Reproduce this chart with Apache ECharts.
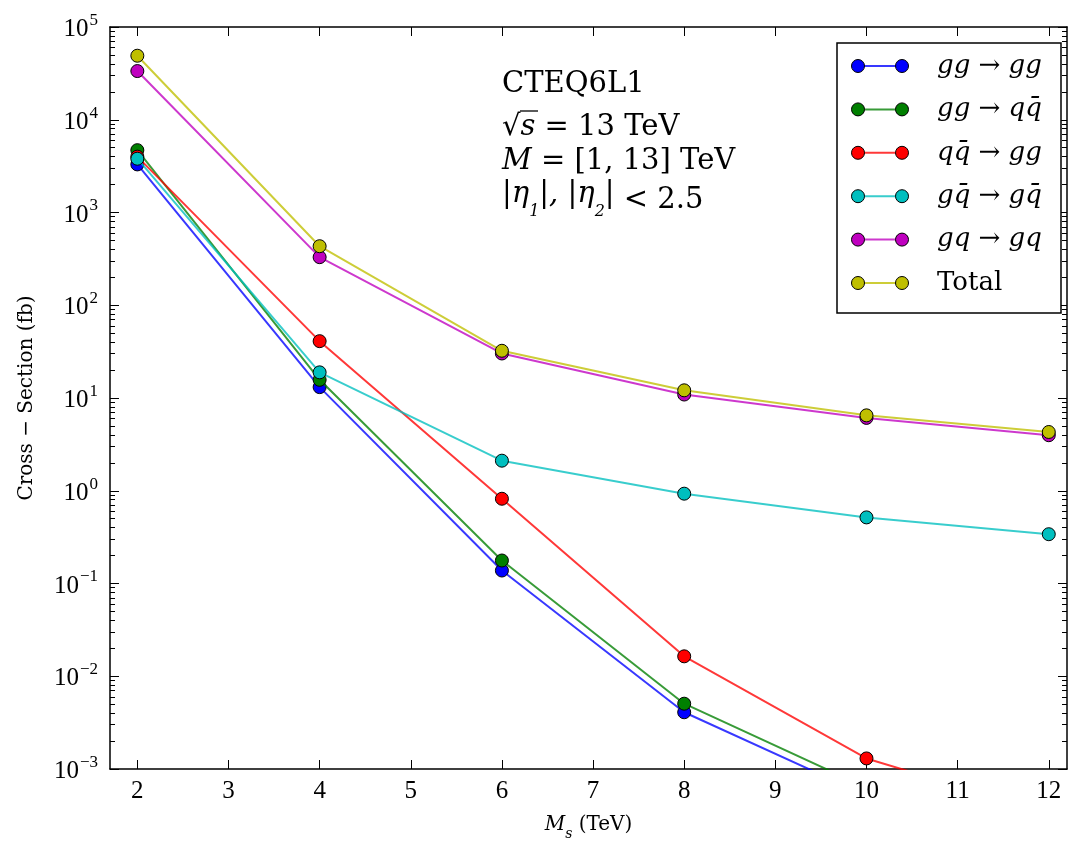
<!DOCTYPE html>
<html>
<head>
<meta charset="utf-8">
<script src="https://cdn.jsdelivr.net/npm/echarts@6/dist/echarts.min.js"></script>
<style>
html,body{margin:0;padding:0;background:#fff;}
#chart{width:1070px;height:846px;}
</style>
</head>
<body>
<div id="chart"></div>
<script>
// ---- data ----
const masses = [2, 4, 6, 8, 10, 12];
const seriesNames = ['gg → gg', 'gg → qq̄', 'qq̄ → gg', 'gq̄ → gq̄', 'gq → gq', 'Total'];
const ggToGg   = [3300, 13.1, 0.138, 0.00409, 0.00052, 0.00007];
const ggToQq   = [4700, 15.7, 0.177, 0.00506, 0.00063, 0.00009];
const qqToGg   = [4000, 41, 0.82, 0.0164, 0.0013, 0.00033];
const gqbToGqb = [3800, 18.9, 2.11, 0.93, 0.516, 0.34];
const gqToGq   = [33500, 330, 30.2, 10.9, 6.1, 3.97];
const total    = [49000, 433, 32.3, 12.1, 6.5, 4.3];
const xTicks = [2, 3, 4, 5, 6, 7, 8, 9, 10, 11, 12];
const yMajorTicks = [1e-3, 1e-2, 1e-1, 1e0, 1e1, 1e2, 1e3, 1e4, 1e5];
const yMinorMultipliers = [2, 3, 4, 5, 6, 7, 8, 9];
const colors = ['#0000ff', '#007f00', '#ff0000', '#00bfbf', '#bf00bf', '#bfbf00'];
const annotation = ['CTEQ6L1', 'sqrt', 'M', 'eta'];

const allSeries = [ggToGg, ggToQq, qqToGg, gqbToGqb, gqToGq, total];

const yMinorTicks = [];
for (let e = -3; e < 5; e++) {
  yMinorMultipliers.forEach(m => yMinorTicks.push(+(m * Math.pow(10, e)).toPrecision(3)));
}

const chart = echarts.init(document.getElementById('chart'), null, {renderer: 'canvas'});

const serif = 'Liberation Serif';
const dserif = 'DejaVu Serif';
const axisLineStyle = {color: '#000', width: 1.5};

function yLabelFmt(v) {
  const e = Math.round(Math.log10(v));
  return '{b|10}{s|' + (e < 0 ? '\u2212' + (-e) : e) + '}';
}
const yLabelRich = {
  b: {fontFamily: serif, fontSize: 25, color: '#000', lineHeight: 30, verticalAlign: 'bottom'},
  s: {fontFamily: serif, fontSize: 17, color: '#000', lineHeight: 30, verticalAlign: 'top', padding: [0, 0, 0, 1]}
};

function mkY(pos, major, showLabel) {
  return {
    type: 'log', logBase: 10, min: 1e-3, max: 1e5, position: pos,
    axisLine: {show: major, lineStyle: axisLineStyle},
    splitLine: {show: false},
    minorTick: {show: false},
    axisTick: {show: true, inside: true, length: major ? 9 : 5,
      lineStyle: {color: '#000', width: 1},
      customValues: major ? yMajorTicks : yMinorTicks},
    axisLabel: {show: showLabel, margin: 12, formatter: yLabelFmt, rich: yLabelRich,
      customValues: yMajorTicks},
    name: showLabel ? 'Cross \u2212 Section (fb)' : '',
    nameLocation: 'middle', nameGap: 73,
    nameTextStyle: {fontFamily: dserif, fontSize: 20, color: '#000'}
  };
}

function mkX(pos, showLabel) {
  return {
    type: 'value', min: 1.7, max: 12.2, position: pos,
    axisLine: {show: true, onZero: false, lineStyle: axisLineStyle},
    splitLine: {show: false},
    axisTick: {show: true, inside: true, length: 9, lineStyle: {color: '#000', width: 1},
      customValues: xTicks},
    axisLabel: {show: showLabel, margin: 10, fontFamily: serif, fontSize: 25, color: '#000',
      customValues: xTicks},
    name: showLabel ? '{i|M}{sub|s}{r| (TeV)}' : '',
    nameLocation: 'middle', nameGap: 46,
    nameTextStyle: {
      rich: {
        i: {fontFamily: dserif, fontStyle: 'italic', fontSize: 20, color: '#000', lineHeight: 26, verticalAlign: 'top'},
        sub: {fontFamily: dserif, fontStyle: 'italic', fontSize: 14, color: '#000', lineHeight: 26, verticalAlign: 'bottom'},
        r: {fontFamily: dserif, fontSize: 20, color: '#000', lineHeight: 26, verticalAlign: 'top'}
      }
    }
  };
}

const series = allSeries.map((vals, i) => ({
  name: seriesNames[i],
  type: 'line',
  xAxisIndex: 0, yAxisIndex: 0,
  data: masses.map((m, j) => [m, vals[j]]),
  symbol: 'circle', symbolSize: 13,
  itemStyle: {color: colors[i], borderColor: '#000', borderWidth: 1},
  lineStyle: {color: colors[i], width: 2, opacity: 0.78},
  clip: true,
  animation: false,
  z: 2 + i
}));

// legend via graphics
const legendX = 837, legendY = 43, legendW = 224, legendH = 270;
const rowY0 = 66, rowStep = 43.4;
const legendRich = {
  i: {fontFamily: dserif, fontStyle: 'italic', fontSize: 26, color: '#000'},
  r: {fontFamily: dserif, fontSize: 26, color: '#000'}
};
function legendText(name) {
  if (name === 'Total') return '{r|Total}';
  const parts = name.split(' → ');
  return '{i|' + parts[0] + '}{r| \u2192 }{i|' + parts[1] + '}';
}
const graphics = [{
  type: 'rect', z: 100,
  shape: {x: legendX, y: legendY, width: legendW, height: legendH},
  style: {fill: '#fff', stroke: '#000', lineWidth: 1.5}
}];
seriesNames.forEach((n, i) => {
  const cy = rowY0 + i * rowStep;
  graphics.push({type: 'line', z: 101, shape: {x1: 858, y1: cy, x2: 902, y2: cy},
    style: {stroke: colors[i], lineWidth: 2, opacity: 0.78}});
  graphics.push({type: 'circle', z: 102, shape: {cx: 858, cy: cy, r: 6.5},
    style: {fill: colors[i], stroke: '#000', lineWidth: 1}});
  graphics.push({type: 'circle', z: 102, shape: {cx: 902, cy: cy, r: 6.5},
    style: {fill: colors[i], stroke: '#000', lineWidth: 1}});
  graphics.push({type: 'text', z: 102, x: 937, y: cy,
    style: {text: legendText(n), rich: legendRich, verticalAlign: 'middle', align: 'left'}});
});

// annotation
const annRich = {
  r: {fontFamily: dserif, fontSize: 29, color: '#000'},
  i: {fontFamily: dserif, fontStyle: 'italic', fontSize: 29, color: '#000'},
  sub: {fontFamily: dserif, fontStyle: 'italic', fontSize: 16, color: '#000', verticalAlign: 'bottom', lineHeight: 40},
  ii: {fontFamily: dserif, fontStyle: 'italic', fontSize: 29, color: '#000', verticalAlign: 'top', lineHeight: 40}
};
const annLines = [
  '{r|CTEQ6L1}',
  '{r|\u221A}{i|s}{r| = 13 TeV}',
  '{i|M}{r| = [1, 13] TeV}',
  '{ii||\u03B7}{sub|1}{ii||, |\u03B7}{sub|2}{ii||}{r| < 2.5}'
];
const annY = [84, 127, 161, 200];
annLines.forEach((t, k) => {
  graphics.push({type: 'text', z: 50, x: 502, y: annY[k],
    style: {text: t, rich: annRich, verticalAlign: 'middle', align: 'left'}});
});
// overline for sqrt
graphics.push({type: 'line', z: 50, shape: {x1: 520, y1: 111, x2: 538, y2: 111},
  style: {stroke: '#000', lineWidth: 1.3}});

const option = {
  backgroundColor: '#fff',
  animation: false,
  grid: {left: 110, right: 3, top: 27, bottom: 69, containLabel: false},
  xAxis: [mkX('bottom', true), mkX('top', false)],
  yAxis: [mkY('left', true, true), mkY('left', false, false), mkY('right', true, false), mkY('right', false, false)],
  series: series,
  graphic: graphics
};
chart.setOption(option);
</script>
</body>
</html>
